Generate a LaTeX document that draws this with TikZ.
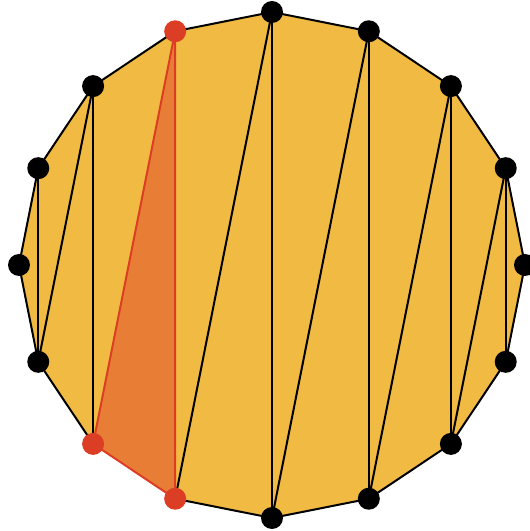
\documentclass[tikz,border=0pt]{standalone}
\usetikzlibrary{calc}
\definecolor{polyfill}{HTML}{F1BA42}
\definecolor{trifill}{HTML}{E87D36}
\definecolor{redc}{HTML}{DC3D25}
\tikzset{
  edge/.style={black,line width=2pt},
  redge/.style={redc,line width=2pt},
  vdot/.style={circle,fill=black,inner sep=0pt,minimum size=22pt},
  rdot/.style={circle,fill=redc,inner sep=0pt,minimum size=22pt}
}
\begin{document}
\begin{tikzpicture}[x=1pt,y=1pt]
\useasboundingbox (0,0) rectangle (530,531);
\foreach \i in {0,...,15}{
  \coordinate (v\i) at ($(272,266)+({90-22.5*\i}:253)$);
}
\fill[polyfill] (v0)--(v1)--(v2)--(v3)--(v4)--(v5)--(v6)--(v7)--(v8)--(v9)--(v10)--(v11)--(v12)--(v13)--(v14)--(v15)--cycle;
\fill[trifill] (v15)--(v10)--(v9)--cycle;
\draw[edge,line join=round] (v9)--(v8)--(v7)--(v6)--(v5)--(v4)--(v3)--(v2)--(v1)--(v0)--(v15)--(v14)--(v13)--(v12)--(v11)--(v10);
\foreach \a/\b in {0/9,0/8,1/8,1/7,2/7,2/6,3/6,3/5,14/10,14/11,13/11}{
  \draw[edge] (v\a)--(v\b);
}
\draw[redge,line join=round] (v15)--(v10)--(v9)--cycle;
\foreach \i in {0,1,2,3,4,5,6,7,8,11,12,13,14}{
  \node[vdot] (d\i) at (v\i) {};
}
\foreach \i in {9,10,15}{
  \node[rdot] (d\i) at (v\i) {};
}
\end{tikzpicture}
\end{document}
